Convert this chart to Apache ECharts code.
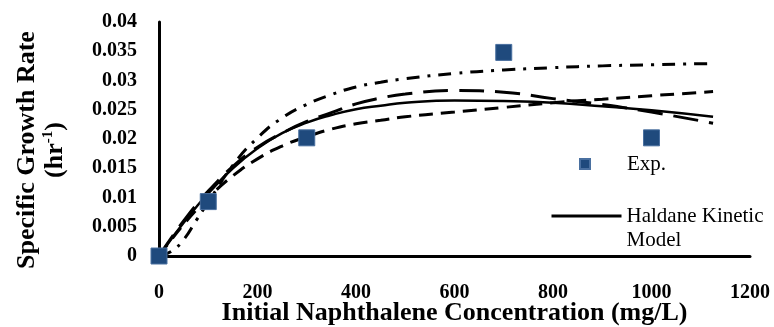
<!DOCTYPE html>
<html>
<head>
<meta charset="utf-8">
<title>Specific Growth Rate vs Naphthalene</title>
<script src="https://cdn.jsdelivr.net/npm/echarts@6/dist/echarts.min.js"></script>
<style>
  html, body { margin: 0; padding: 0; background: #fff; }
  #main { width: 774px; height: 327px; }
</style>
</head>
<body>
<div id="main"></div>
<script>
const conc = [0, 25, 50, 75, 100, 150, 200, 250, 300, 350, 400, 450, 500, 600, 700, 800, 900, 1000, 1125];
// Haldane model (solid, in legend)
const haldane = [0, 0.0029, 0.0057, 0.0083, 0.0107, 0.0150, 0.0184, 0.0210, 0.0228, 0.0241, 0.0251, 0.0257, 0.0262, 0.0266, 0.0265, 0.0262, 0.0256, 0.0249, 0.0238];
// other kinetic fits, no legend entry
const longDash = [0, 0.0031, 0.0060, 0.0087, 0.0111, 0.0153, 0.0186, 0.0210, 0.0230, 0.0245, 0.0260, 0.0270, 0.0277, 0.0283, 0.0280, 0.0269, 0.0259, 0.0246, 0.0227];
const shortDash = [0, 0.0028, 0.0054, 0.0078, 0.0100, 0.0137, 0.0166, 0.0188, 0.0204, 0.0217, 0.0226, 0.0232, 0.0238, 0.0246, 0.0254, 0.0262, 0.0268, 0.0274, 0.0281];
const dashDot = [0, 0.0008, 0.0028, 0.0060, 0.0092, 0.0155, 0.0202, 0.0236, 0.0259, 0.0276, 0.0289, 0.0297, 0.0303, 0.0312, 0.0318, 0.0322, 0.0325, 0.0327, 0.0329];
// experimental points
const expConc = [0, 100, 300, 700, 1000];
const expRate = [0, 0.0093, 0.0202, 0.0348, 0.0202];
// axis ticks
const xTicks = [0, 200, 400, 600, 800, 1000, 1200];
const yTicks = [0, 0.005, 0.01, 0.015, 0.02, 0.025, 0.03, 0.035, 0.04];

const FONT = '"Liberation Serif", "Times New Roman", serif';
const pairs = (xs, ys) => xs.map((x, i) => [x, ys[i]]);

const curve = (name, ys, type, width) => ({
  name: name,
  type: 'line',
  data: pairs(conc, ys),
  smooth: true,
  symbol: 'none',
  itemStyle: { color: '#000' },
  lineStyle: { color: '#000', width: width, type: type, cap: 'butt' },
  z: 2
});

const myChart = echarts.init(document.getElementById('main'));
const option = {
  animation: false,
  // fixed plot box, don't let v6 shrink it to fit the labels
  grid: { left: 159, right: 24, top: 22, bottom: 71, outerBoundsMode: 'none' },
  legend: [
    {
      data: ['Exp.'],
      left: 579, top: 152, padding: 0,
      itemWidth: 10, itemHeight: 10,
      selectedMode: false,
      // push the label out to line up with the one below
      textStyle: { fontFamily: FONT, fontSize: 21, color: '#000', lineHeight: 24, padding: [0, 0, 0, 32] }
    },
    {
      data: ['Haldane Kinetic Model'],
      left: 550, top: 180, padding: 0,
      // tiny itemHeight hides the legend dot under the line
      itemWidth: 70, itemHeight: 2,
      selectedMode: false,
      lineStyle: { width: 3 },
      // empty first line keeps the icon level with "Haldane Kinetic"
      formatter: () => '\nHaldane Kinetic\nModel',
      textStyle: { fontFamily: FONT, fontSize: 21, color: '#000', lineHeight: 24 }
    }
  ],
  xAxis: {
    type: 'value',
    min: xTicks[0],
    max: xTicks[xTicks.length - 1],
    interval: xTicks[1] - xTicks[0],
    axisLine: { show: true, lineStyle: { color: '#000', width: 3 } },
    axisTick: { show: false },
    splitLine: { show: false },
    axisLabel: {
      margin: 27, fontFamily: FONT, fontSize: 20, fontWeight: 'bold', color: '#000',
      formatter: v => String(v)
    },
    name: 'Initial Naphthalene Concentration (mg/L)',
    nameLocation: 'middle',
    nameGap: 44,
    nameMoveOverlap: false,
    nameTextStyle: { fontFamily: FONT, fontSize: 26, fontWeight: 'bold', color: '#000' }
  },
  yAxis: {
    type: 'value',
    min: yTicks[0],
    max: yTicks[yTicks.length - 1],
    interval: yTicks[1] - yTicks[0],
    axisLine: { show: true, lineStyle: { color: '#000', width: 3 } },
    axisTick: { show: false },
    splitLine: { show: false },
    axisLabel: { margin: 22, fontFamily: FONT, fontSize: 20, fontWeight: 'bold', color: '#000' },
    name: '{t|Specific Growth Rate}\n{t|(hr}{sup|-1}{t|)}',
    nameLocation: 'middle',
    nameRotate: 90,
    nameGap: 90,
    nameMoveOverlap: false,
    nameTextStyle: {
      padding: [0, 22, 0, 0],
      rich: {
        t: { fontFamily: FONT, fontSize: 26, fontWeight: 'bold', color: '#000', lineHeight: 28 },
        sup: { fontFamily: FONT, fontSize: 15, fontWeight: 'bold', color: '#000', verticalAlign: 'top', lineHeight: 28 }
      }
    }
  },
  series: [
    curve('dashDot', dashDot, [13, 8, 3, 8], 3),
    curve('longDash', longDash, [25, 11], 3),
    curve('shortDash', shortDash, [14, 8], 3),
    curve('Haldane Kinetic Model', haldane, 'solid', 2.5),
    {
      name: 'Exp.',
      type: 'scatter',
      data: pairs(expConc, expRate),
      symbol: 'rect',
      symbolSize: 16,
      itemStyle: { color: '#1f4a7d', borderColor: '#4a70a0', borderWidth: 1, opacity: 1 },
      z: 3
    }
  ]
};
myChart.setOption(option);
</script>
</body>
</html>
